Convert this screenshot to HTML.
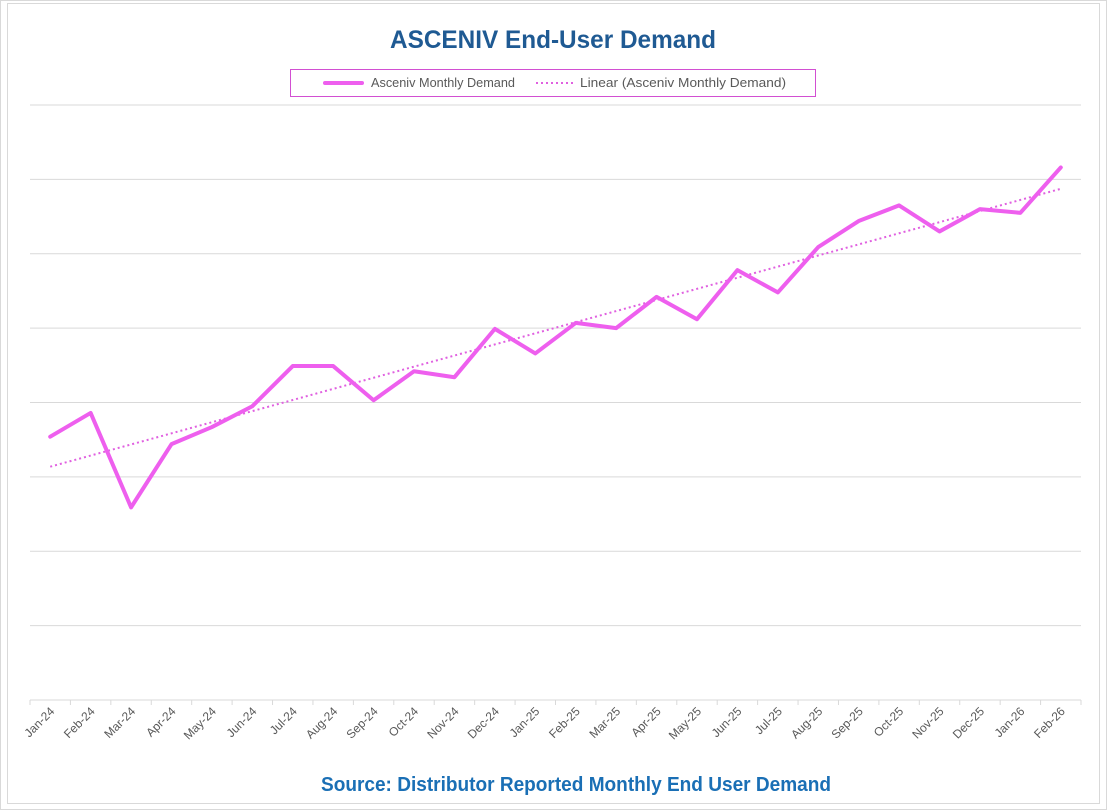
<!DOCTYPE html>
<html><head><meta charset="utf-8"><style>
html,body{margin:0;padding:0;background:#fff;}
svg{display:block;font-family:"Liberation Sans",sans-serif;}
</style></head><body>
<svg id="chart" width="1108" height="811">
<rect x="0.5" y="0.5" width="1106" height="809" fill="#fff" stroke="#d9d9d9"/>
<rect x="7.5" y="3.5" width="1092" height="800" fill="#fff" stroke="#d9d9d9"/>
<text x="553" y="48" text-anchor="middle" font-size="25" font-weight="bold" fill="#1f5a93" textLength="326" lengthAdjust="spacingAndGlyphs">ASCENIV End-User Demand</text>
<g>
<rect x="290.5" y="69.5" width="525" height="27" fill="#fff" stroke="#d24fd2"/>
<line x1="325" y1="83" x2="362" y2="83" stroke="#ee5fee" stroke-width="4" stroke-linecap="round"/>
<text x="371" y="87" font-size="13" fill="#595959" textLength="144" lengthAdjust="spacingAndGlyphs">Asceniv Monthly Demand</text>
<line x1="536" y1="83" x2="576" y2="83" stroke="#e060e0" stroke-width="2" stroke-dasharray="2,3"/>
<text x="580" y="87" font-size="13" fill="#595959" textLength="206" lengthAdjust="spacingAndGlyphs">Linear (Asceniv Monthly Demand)</text>
</g>
<g id="plot"></g>
<text x="576" y="791" text-anchor="middle" font-size="20" font-weight="bold" fill="#1a6fb5" textLength="510" lengthAdjust="spacingAndGlyphs">Source: Distributor Reported Monthly End User Demand</text>
</svg>
<script>
const categories=["Jan-24","Feb-24","Mar-24","Apr-24","May-24","Jun-24","Jul-24","Aug-24","Sep-24","Oct-24","Nov-24","Dec-24","Jan-25","Feb-25","Mar-25","Apr-25","May-25","Jun-25","Jul-25","Aug-25","Sep-25","Oct-25","Nov-25","Dec-25","Jan-26","Feb-26"];
const demand=[3.54,3.86,2.59,3.44,3.67,3.95,4.49,4.49,4.03,4.42,4.34,4.99,4.66,5.07,5.00,5.42,5.12,5.78,5.48,6.09,6.44,6.65,6.30,6.60,6.55,7.16];
const yTicks=[0,1,2,3,4,5,6,7,8];
const X0=30,X1=1081,Y0=700,Y1=105,YMAX=8;
const bw=(X1-X0)/categories.length;
const x=i=>X0+bw*(i+0.5);
const y=v=>Y0-(v/YMAX)*(Y0-Y1);
const NS="http://www.w3.org/2000/svg";
const g=document.getElementById('plot');
function mk(t,a){const e=document.createElementNS(NS,t);for(const k in a)e.setAttribute(k,a[k]);g.appendChild(e);return e;}
yTicks.forEach(v=>{if(v===0)return;const l=mk('line',{x1:X0,x2:X1,y1:y(v),y2:y(v),stroke:'#d9d9d9','stroke-width':1});

});
const ax=mk('line',{x1:X0,x2:X1,y1:Y0,y2:Y0,stroke:'#d9d9d9','stroke-width':1});


for(let i=0;i<=categories.length;i++){const t=mk('line',{x1:X0+bw*i,x2:X0+bw*i,y1:Y0,y2:Y0+5,stroke:'#d9d9d9'});

}
categories.forEach((c,i)=>{const t=mk('text',{x:x(i)+5,y:Y0+12,'text-anchor':'end','font-size':12,fill:'#595959',transform:`rotate(-45 ${x(i)+5} ${Y0+12})`});t.textContent=c;

});
const n=demand.length;let sx=0,sy=0,sxy=0,sxx=0;demand.forEach((v,i)=>{sx+=i;sy+=v;sxy+=i*v;sxx+=i*i;});
const m=(n*sxy-sx*sy)/(n*sxx-sx*sx),b=(sy-m*sx)/n;
const tr=mk('line',{x1:x(0),y1:y(b),x2:x(n-1),y2:y(b+m*(n-1)),stroke:'#e060e0','stroke-width':2,'stroke-dasharray':'2,3'});


const p=mk('polyline',{points:demand.map((v,i)=>x(i)+','+y(v)).join(' '),fill:'none',stroke:'#ee5fee','stroke-width':4,'stroke-linejoin':'round','stroke-linecap':'round'});


</script>
</body></html>
